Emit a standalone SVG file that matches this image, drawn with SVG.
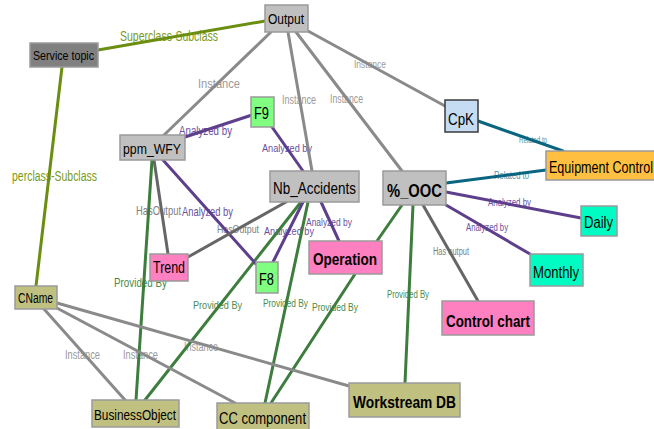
<svg xmlns="http://www.w3.org/2000/svg" width="654" height="429" viewBox="0 0 654 429">
  <style>
    text { font-family: "Liberation Sans", Arial, sans-serif; }
    .node rect { stroke: #9a9a9a; stroke-width: 1.5; }
    .node text { fill: #000; }
    .gray rect { fill: #c0c0c0; }
    .dark rect { fill: #808080; }
    .green rect { fill: #80ff80; }
    .blue rect { fill: #c6dcf2; stroke: #3a3a3a; }
    .orange rect { fill: #ffbf40; }
    .aqua rect { fill: #00fcc2; }
    .pink rect { fill: #ff80c0; }
    .olive rect { fill: #c0c080; }
    .bold { font-weight: bold; }
    .e { fill: none; stroke-width: 3; stroke-linecap: round; }
    .inst { stroke: #8a8a8a; }
    .sup { stroke: #6b8e10; }
    .prov { stroke: #3d7d3d; }
    .anal { stroke: #5e3f8c; }
    .rel { stroke: #0a6680; }
    .has { stroke: #666; }
    .l-inst { fill: #9a9a9a; }
    .l-sup { fill: #7a9a20; }
    .l-prov { fill: #4a8a4a; }
    .l-anal { fill: #6a50a0; }
    .l-rel { fill: #4a90a8; }
    .l-has { fill: #808080; }
  </style>

  <g id="connectors">
    <!-- edge labels sit under the lines -->
    <g id="edge-labels">
      <text class="l-sup" x="120" y="41" font-size="14" textLength="98" lengthAdjust="spacingAndGlyphs">Superclass-Subclass</text>
      <text class="l-sup" x="12" y="181" font-size="14" textLength="85" lengthAdjust="spacingAndGlyphs">perclass-Subclass</text>
      <text class="l-inst" x="198" y="88" font-size="13" textLength="42" lengthAdjust="spacingAndGlyphs">Instance</text>
      <text class="l-inst" x="282" y="104" font-size="12" textLength="34" lengthAdjust="spacingAndGlyphs">Instance</text>
      <text class="l-inst" x="330" y="103" font-size="12" textLength="33" lengthAdjust="spacingAndGlyphs">Instance</text>
      <text class="l-inst" x="354" y="68" font-size="10" textLength="32" lengthAdjust="spacingAndGlyphs">Instance</text>
      <text class="l-rel" x="519" y="143" font-size="9" textLength="28" lengthAdjust="spacingAndGlyphs">Related to</text>
      <text class="l-rel" x="494" y="179" font-size="10" textLength="35" lengthAdjust="spacingAndGlyphs">Related to</text>
      <text class="l-anal" x="488" y="206" font-size="10" textLength="43" lengthAdjust="spacingAndGlyphs">Analyzed by</text>
      <text class="l-anal" x="466" y="231" font-size="10" textLength="42" lengthAdjust="spacingAndGlyphs">Analyzed by</text>
      <text class="l-has" x="433" y="255" font-size="10" textLength="36" lengthAdjust="spacingAndGlyphs">Has output</text>
      <text class="l-prov" x="387" y="298" font-size="10" textLength="42" lengthAdjust="spacingAndGlyphs">Provided By</text>
      <text class="l-prov" x="312" y="311" font-size="11" textLength="46" lengthAdjust="spacingAndGlyphs">Provided By</text>
      <text class="l-prov" x="263" y="307" font-size="11" textLength="45" lengthAdjust="spacingAndGlyphs">Provided By</text>
      <text class="l-prov" x="193" y="309" font-size="11" textLength="49" lengthAdjust="spacingAndGlyphs">Provided By</text>
      <text class="l-prov" x="114" y="287" font-size="13" textLength="53" lengthAdjust="spacingAndGlyphs">Provided By</text>
      <text class="l-has" x="136" y="215" font-size="13" textLength="45" lengthAdjust="spacingAndGlyphs">HasOutput</text>
      <text class="l-anal" x="182" y="216" font-size="13" textLength="51" lengthAdjust="spacingAndGlyphs">Analyzed by</text>
      <text class="l-has" x="217" y="233" font-size="11" textLength="42" lengthAdjust="spacingAndGlyphs">HasOutput</text>
      <text class="l-anal" x="264" y="235" font-size="11" textLength="50" lengthAdjust="spacingAndGlyphs">Analyzed by</text>
      <text class="l-anal" x="306" y="226" font-size="10" textLength="46" lengthAdjust="spacingAndGlyphs">Analyzed by</text>
      <text class="l-anal" x="179" y="135" font-size="12" textLength="53" lengthAdjust="spacingAndGlyphs">Analyzed by</text>
      <text class="l-anal" x="262" y="152" font-size="11" textLength="50" lengthAdjust="spacingAndGlyphs">Analyzed by</text>
      <text class="l-inst" x="65" y="359" font-size="12" textLength="35" lengthAdjust="spacingAndGlyphs">Instance</text>
      <text class="l-inst" x="123" y="359" font-size="12" textLength="35" lengthAdjust="spacingAndGlyphs">Instance</text>
      <text class="l-inst" x="184" y="351" font-size="12" textLength="34" lengthAdjust="spacingAndGlyphs">Instance</text>
    </g>
    <g id="edge-lines">
      <line class="e sup" x1="98" y1="50" x2="265" y2="21"/>
      <line class="e sup" x1="62" y1="67" x2="36" y2="286" stroke-width="2"/>
      <line class="e inst" x1="271" y1="32" x2="164" y2="135"/>
      <line class="e inst" x1="288" y1="32" x2="312" y2="171"/>
      <line class="e inst" x1="296" y1="32" x2="402" y2="171"/>
      <line class="e inst" x1="308" y1="31" x2="445" y2="106"/>
      <line class="e rel" x1="478" y1="121" x2="563" y2="151"/>
      <line class="e rel" x1="446" y1="183" x2="546" y2="170"/>
      <line class="e anal" x1="446" y1="192" x2="581" y2="218"/>
      <line class="e anal" x1="446" y1="205" x2="530" y2="254"/>
      <line class="e has" x1="423" y1="205" x2="478" y2="301"/>
      <line class="e prov" x1="402" y1="205" x2="377" y2="241"/>
      <line class="e prov" x1="413" y1="205" x2="405" y2="383"/>
      <line class="e prov" x1="355" y1="274" x2="271" y2="403"/>
      <line class="e prov" x1="308" y1="202" x2="265" y2="403"/>
      <line class="e prov" x1="301" y1="202" x2="145" y2="400"/>
      <line class="e prov" x1="152" y1="160" x2="136" y2="400"/>
      <line class="e has" x1="154" y1="160" x2="168" y2="254"/>
      <line class="e anal" x1="163" y1="160" x2="256" y2="264"/>
      <line class="e has" x1="286" y1="202" x2="188" y2="257"/>
      <line class="e anal" x1="303" y1="202" x2="273" y2="262"/>
      <line class="e anal" x1="321" y1="202" x2="339" y2="241"/>
      <line class="e anal" x1="185" y1="137" x2="252" y2="115"/>
      <line class="e anal" x1="272" y1="127" x2="303" y2="171"/>
      <line class="e inst" x1="44" y1="309" x2="125" y2="400" stroke-width="2"/>
      <line class="e inst" x1="55" y1="307" x2="235" y2="403"/>
      <line class="e inst" x1="57" y1="303" x2="349" y2="386"/>
    </g>
  </g>

  <g id="output" class="node gray">
    <rect x="265" y="5" width="43" height="27"/>
    <text x="268" y="24" font-size="14" textLength="36" lengthAdjust="spacingAndGlyphs">Output</text>
  </g>
  <g id="service-topic" class="node dark">
    <rect x="30" y="43" width="68" height="24"/>
    <text x="33" y="60" font-size="13" textLength="61" lengthAdjust="spacingAndGlyphs">Service topic</text>
  </g>
  <g id="ppm-wfy" class="node gray">
    <rect x="120" y="135" width="65" height="25"/>
    <text x="123" y="154" font-size="15" textLength="58" lengthAdjust="spacingAndGlyphs">ppm_WFY</text>
  </g>
  <g id="f9" class="node green">
    <rect x="251" y="97" width="23" height="30"/>
    <text x="254" y="119" font-size="17" textLength="15" lengthAdjust="spacingAndGlyphs">F9</text>
  </g>
  <g id="nb-accidents" class="node gray">
    <rect x="270" y="171" width="89" height="31"/>
    <text x="273" y="194" font-size="17" textLength="83" lengthAdjust="spacingAndGlyphs">Nb_Accidents</text>
  </g>
  <g id="ooc" class="node gray">
    <rect x="383" y="171" width="63" height="34"/>
    <text class="bold" x="387" y="197" font-size="19" textLength="55" lengthAdjust="spacingAndGlyphs">%_OOC</text>
  </g>
  <g id="cpk" class="node blue">
    <rect x="445" y="100" width="33" height="32"/>
    <text x="448" y="125" font-size="17" textLength="26" lengthAdjust="spacingAndGlyphs">CpK</text>
  </g>
  <g id="equipment-control" class="node orange">
    <rect x="546" y="151" width="114" height="29"/>
    <text x="549" y="173" font-size="17" textLength="104" lengthAdjust="spacingAndGlyphs">Equipment Control</text>
  </g>
  <g id="daily" class="node aqua">
    <rect x="581" y="206" width="36" height="30"/>
    <text x="584" y="228" font-size="17" textLength="29" lengthAdjust="spacingAndGlyphs">Daily</text>
  </g>
  <g id="monthly" class="node aqua">
    <rect x="530" y="254" width="53" height="32"/>
    <text x="533" y="278" font-size="17" textLength="46" lengthAdjust="spacingAndGlyphs">Monthly</text>
  </g>
  <g id="control-chart" class="node pink">
    <rect x="442" y="301" width="92" height="34"/>
    <text class="bold" x="446" y="327" font-size="17" textLength="84" lengthAdjust="spacingAndGlyphs">Control chart</text>
  </g>
  <g id="operation" class="node pink">
    <rect x="309" y="241" width="73" height="33"/>
    <text class="bold" x="313" y="265" font-size="17" textLength="64" lengthAdjust="spacingAndGlyphs">Operation</text>
  </g>
  <g id="trend" class="node pink">
    <rect x="150" y="254" width="38" height="27"/>
    <text x="153" y="273" font-size="16" textLength="32" lengthAdjust="spacingAndGlyphs">Trend</text>
  </g>
  <g id="f8" class="node green">
    <rect x="256" y="262" width="22" height="31"/>
    <text x="259" y="285" font-size="17" textLength="15" lengthAdjust="spacingAndGlyphs">F8</text>
  </g>
  <g id="cname" class="node olive">
    <rect x="15" y="286" width="42" height="23"/>
    <text x="18" y="303" font-size="14" textLength="35" lengthAdjust="spacingAndGlyphs">CName</text>
  </g>
  <g id="business-object" class="node olive">
    <rect x="92" y="400" width="87" height="27"/>
    <text x="94" y="420" font-size="14" textLength="82" lengthAdjust="spacingAndGlyphs">BusinessObject</text>
  </g>
  <g id="cc-component" class="node olive">
    <rect x="217" y="403" width="92" height="30"/>
    <text x="219" y="424" font-size="16" textLength="87" lengthAdjust="spacingAndGlyphs">CC component</text>
  </g>
  <g id="workstream-db" class="node olive">
    <rect x="349" y="383" width="111" height="34"/>
    <text class="bold" x="353" y="408" font-size="16" textLength="103" lengthAdjust="spacingAndGlyphs">Workstream DB</text>
  </g>
</svg>
